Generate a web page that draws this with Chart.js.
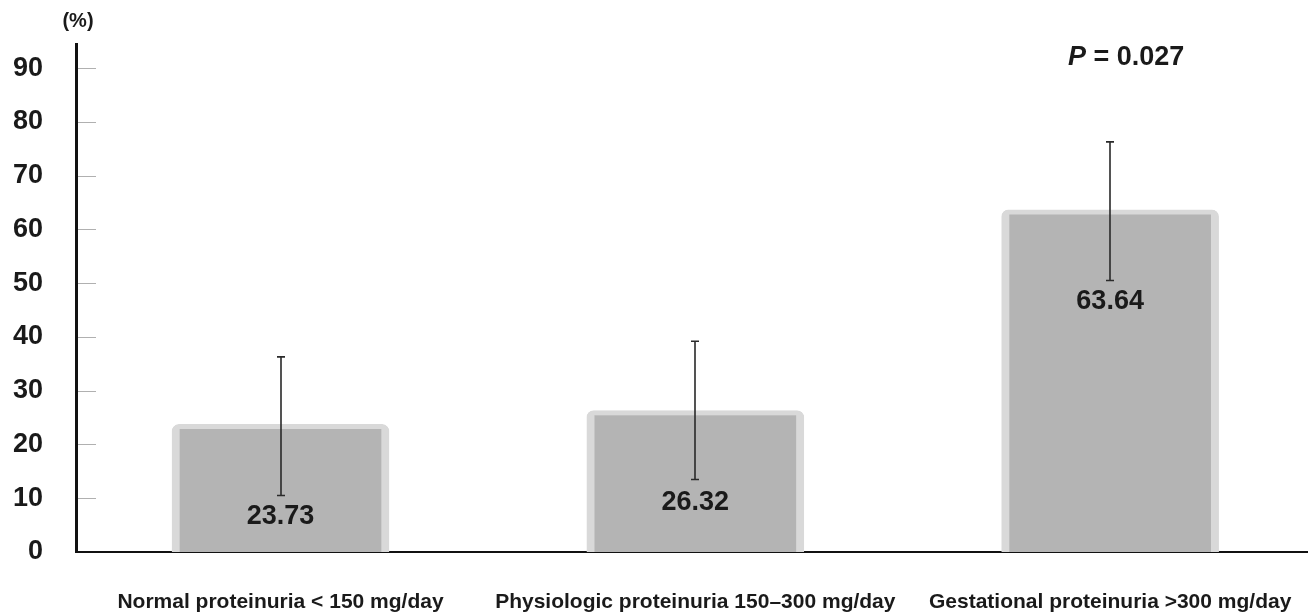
<!DOCTYPE html>
<html>
<head>
<meta charset="utf-8">
<script src="https://cdn.jsdelivr.net/npm/chart.js@4.4.1/dist/chart.umd.min.js"></script>
<style>
  html, body { margin: 0; padding: 0; background: #ffffff; }
  #wrap { width: 1308px; height: 612px; position: relative; }
</style>
</head>
<body>
<div id="wrap"><canvas id="chart" width="1308" height="612"></canvas></div>
<script>
// Proteinuria groups and their percentages with error ranges
const categories = [
  'Normal proteinuria < 150 mg/day',
  'Physiologic proteinuria 150\u2013300 mg/day',
  'Gestational proteinuria >300 mg/day'
];
const percentages = [23.73, 26.32, 63.64];
const errorLow = [10.5, 13.5, 50.5];
const errorHigh = [36.3, 39.2, 76.3];
const unitLabel = '(%)';
const pValue = '0.027';

const FONT = '"Liberation Sans", Arial, Helvetica, sans-serif';
const INK = '#1a1a1a';

const points = percentages.map((v, i) => ({ x: i, y: v }));

// Short inner tick marks, error bars, value labels and annotations
const decorations = {
  id: 'decorations',
  afterDatasetsDraw(chart) {
    const ctx = chart.ctx;
    const y = chart.scales.y;
    const area = chart.chartArea;
    const meta = chart.getDatasetMeta(0);

    ctx.save();
    // inner tick marks on the value axis
    ctx.strokeStyle = '#b0b0b0';
    ctx.lineWidth = 1;
    y.ticks.forEach(t => {
      if (t.value === 0) return;
      const py = Math.round(y.getPixelForValue(t.value)) + 0.5;
      ctx.beginPath();
      ctx.moveTo(area.left + 2, py);
      ctx.lineTo(area.left + 20, py);
      ctx.stroke();
    });

    // error bars
    ctx.strokeStyle = '#2a2a2a';
    ctx.lineWidth = 1.6;
    meta.data.forEach((bar, i) => {
      const x = Math.round(bar.x);
      const yh = y.getPixelForValue(errorHigh[i]);
      const yl = y.getPixelForValue(errorLow[i]);
      ctx.beginPath();
      ctx.moveTo(x, yh); ctx.lineTo(x, yl);
      ctx.moveTo(x - 4, yh); ctx.lineTo(x + 4, yh);
      ctx.moveTo(x - 4, yl); ctx.lineTo(x + 4, yl);
      ctx.stroke();
    });

    // value labels inside the bars
    ctx.fillStyle = INK;
    ctx.font = 'bold 27px ' + FONT;
    ctx.textAlign = 'center';
    ctx.textBaseline = 'middle';
    meta.data.forEach((bar, i) => {
      ctx.fillText(percentages[i].toFixed(2), bar.x, bar.y + 92);
    });

    // unit label above the value axis
    ctx.font = 'bold 20px ' + FONT;
    ctx.fillText(unitLabel, area.left + 2, 21);

    // significance annotation
    const pPart = 'P';
    const rest = ' = ' + pValue;
    ctx.font = 'italic bold 27px ' + FONT;
    const w1 = ctx.measureText(pPart).width;
    ctx.font = 'bold 27px ' + FONT;
    const w2 = ctx.measureText(rest).width;
    const cx = meta.data[2].x + 16;
    const startX = cx - (w1 + w2) / 2;
    ctx.textAlign = 'left';
    ctx.font = 'italic bold 27px ' + FONT;
    ctx.fillText(pPart, startX, 58);
    ctx.font = 'bold 27px ' + FONT;
    ctx.fillText(rest, startX + w1, 58);
    ctx.restore();
  }
};

const zeroPadding = s => {
  s.paddingTop = 0; s.paddingBottom = 0; s.paddingLeft = 0; s.paddingRight = 0;
};

new Chart(document.getElementById('chart'), {
  type: 'bar',
  data: {
    datasets: [{
      data: points,
      backgroundColor: '#b4b4b4',
      borderColor: '#d9d9d9',
      borderWidth: { top: 5, left: 8, right: 8, bottom: 0 },
      borderRadius: { topLeft: 7, topRight: 7 },
      borderSkipped: 'start',
      barThickness: 217
    }]
  },
  options: {
    responsive: false,
    animation: false,
    events: [],
    layout: { padding: { top: 44, left: 0, right: 0, bottom: 0 } },
    plugins: {
      legend: { display: false },
      tooltip: { enabled: false }
    },
    scales: {
      x: {
        type: 'linear',
        offset: false,
        min: -0.493,
        max: 2.477,
        grid: { display: false },
        border: { display: true, color: '#111111', width: 2 },
        ticks: {
          stepSize: 1,
          includeBounds: false,
          autoSkip: false,
          maxRotation: 0,
          minRotation: 0,
          padding: 30,
          color: INK,
          font: { family: FONT, size: 21, weight: 'bold' },
          callback: v => (Number.isInteger(v) && categories[v] !== undefined) ? categories[v] : ''
        },
        afterFit: s => { s.height = 60; zeroPadding(s); }
      },
      y: {
        min: 0,
        max: 94.5,
        grid: { display: false },
        border: { display: true, color: '#111111', width: 3 },
        ticks: {
          stepSize: 10,
          includeBounds: false,
          padding: 25,
          color: INK,
          font: { family: FONT, size: 27, weight: 'bold' }
        },
        afterFit: s => { s.width = 76; zeroPadding(s); }
      }
    }
  },
  plugins: [decorations]
});
</script>
</body>
</html>
